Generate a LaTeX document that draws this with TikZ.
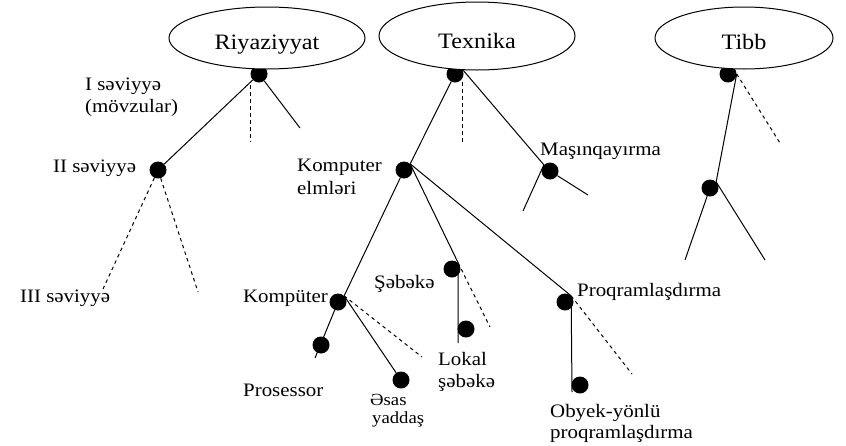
\documentclass[tikz,border=0pt]{standalone}
\usepackage{fontspec}
\setmainfont{Liberation Serif}[FakeStretch=1.1]
\usetikzlibrary{shapes.geometric}
\begin{document}
\begin{tikzpicture}[x=1pt,y=-1pt,
  dot/.style={circle,fill=black,minimum size=17pt,inner sep=0pt},
  topic/.style={ellipse,draw,fill=white,line width=1pt,inner sep=0pt,
    font=\fontsize{22}{25}\selectfont,text height=14pt,text depth=0pt},
  lbl/.style={inner sep=0pt,anchor=base west,font=\fontsize{19}{22}\selectfont},
  smalllbl/.style={inner sep=0pt,anchor=base west,font=\fontsize{17}{20}\selectfont},
  edge/.style={line width=1pt},
  dsh/.style={line width=1pt,dash pattern=on 3.5pt off 3.5pt}]
\useasboundingbox (0,0) rectangle (846,445);

% dots
\node[dot] (ri)  at (259,74) {};
\node[dot] (tx)  at (455,74) {};
\node[dot] (tb)  at (728,74) {};
\node[dot] (r2)  at (158,170) {};
\node[dot] (kel) at (404,170) {};
\node[dot] (mas) at (550,171) {};
\node[dot] (tb2) at (710,188) {};
\node[dot] (seb) at (452,269) {};
\node[dot] (lok) at (466,329) {};
\node[dot] (prq) at (565,302) {};
\node[dot] (obj) at (580,385) {};
\node[dot] (kmp) at (338,302) {};
\node[dot] (pro) at (321,345) {};
\node[dot] (esd) at (401,380) {};

% free ends
\coordinate (riDa) at (250,85);
\coordinate (riDb) at (250,142);
\coordinate (riR)  at (300,128);
\coordinate (r2a)  at (103,289);
\coordinate (r2b)  at (198,292);
\coordinate (txDa) at (462,82);
\coordinate (txDb) at (462,145);
\coordinate (masL) at (523,211);
\coordinate (masR) at (588,195);
\coordinate (tbD)  at (780,143);
\coordinate (tbL)  at (685,260);
\coordinate (tbR)  at (765,260);
\coordinate (lokE) at (458,343);
\coordinate (sebD) at (490,327);
\coordinate (prqE) at (572,392);
\coordinate (prqD) at (632,374);
\coordinate (proE) at (315,358);
\coordinate (kmpD) at (422,357);

% Riyaziyyat
\draw[edge] (ri) -- (r2);
\draw[dsh] (riDa) -- (riDb);
\draw[edge] (ri) -- (riR);
\draw[dsh] (r2) -- (r2a);
\draw[dsh] (r2) -- (r2b);

% Texnika
\draw[edge] (tx) -- (kel.north east);
\draw[dsh] (txDa) -- (txDb);
\draw[edge] (tx.north east) -- (mas.north west) -- (masL);
\draw[edge] (mas) -- (masR);

% Tibb
\draw[edge] (tb.east) -- (tb2.north east) -- (tbR);
\draw[edge] (tb2) -- (tbL);
\draw[dsh] (tb.east) -- (tbD);

% Komputer elmleri
\draw[edge] (kel) -- (kmp.north east);
\draw[edge] (kel.north east) -- (seb.north east);
\draw[edge] (kel.north east) -- (prq.north east);

% Sebeke
\draw[edge] (seb.north east) -- (lokE);
\draw[dsh] (seb.north east) -- (sebD);

% Proqramlasdirma
\draw[edge] (prq.north east) -- (prqE);
\draw[dsh] (prq.north east) -- (prqD);

% Kompuuter
\draw[edge] (kmp) -- (proE);
\draw[edge] (kmp.north east) -- (esd);
\draw[dsh] (kmp.north east) -- (kmpD);

% topic ellipses
\node[topic,minimum width=196pt,minimum height=62pt] (riy) at (267,38) {\raisebox{-4pt}{Riyaziyyat}};
\node[topic,minimum width=196pt,minimum height=68pt] (tex) at (477,36) {\raisebox{-5pt}{Texnika}};
\node[topic,minimum width=178pt,minimum height=62pt] (tib) at (744,38) {\raisebox{-4pt}{Tibb}};

% labels
\node[lbl] (l1a) at (85,90) {I səviyyə};
\node[lbl] (l1b) at (85,112) {(mövzular)};
\node[lbl] (l2) at (53,172) {II səviyyə};
\node[lbl] (l3) at (20,302) {III səviyyə};
\node[lbl] (kela) at (297,171) {Komputer};
\node[lbl] (kelb) at (297,194) {elmləri};
\node[lbl] (masl) at (540,155) {Maşınqayırma};
\node[lbl,anchor=base east] (kmpl) at (328,302) {Kompüter};
\node[lbl] (sebl) at (374,288) {Şəbəkə};
\node[lbl] (prol) at (243,396) {Prosessor};
\node[smalllbl] (esla) at (370,405) {Əsas};
\node[smalllbl] (eslb) at (372,423) {yaddaş};
\node[lbl] (loka) at (438,365) {Lokal};
\node[lbl] (lokb) at (438,387) {şəbəkə};
\node[lbl] (prql) at (577,296) {Proqramlaşdırma};
\node[lbl] (obja) at (550,417) {Obyek-yönlü};
\node[lbl] (objb) at (550,438) {proqramlaşdırma};
\end{tikzpicture}
\end{document}
